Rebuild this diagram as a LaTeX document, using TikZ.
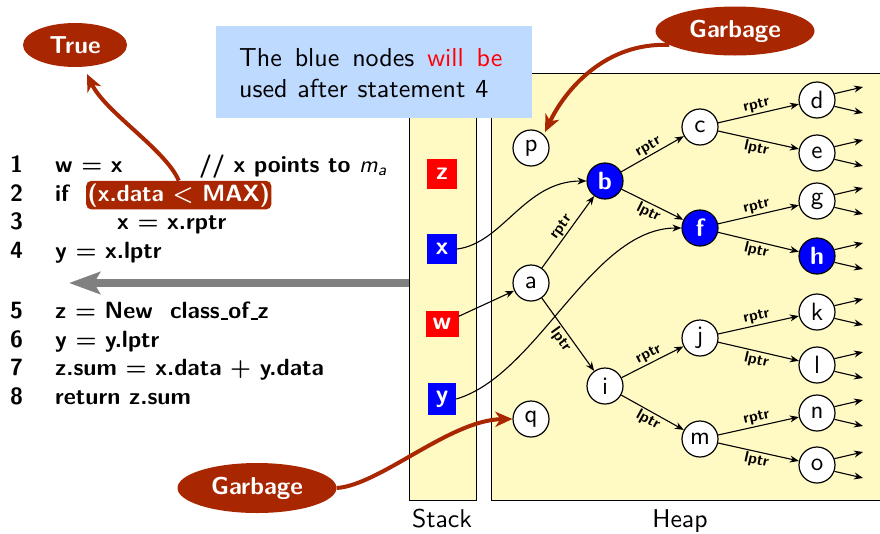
\documentclass[tikz,border=0pt]{standalone}
\usetikzlibrary{arrows.meta,shapes.geometric,calc}
\definecolor{dred}{RGB}{168,38,0}
\definecolor{heapy}{RGB}{255,249,196}
\definecolor{noteb}{RGB}{190,218,255}
\definecolor{sqred}{RGB}{255,0,0}
\definecolor{sqblue}{RGB}{0,0,255}
\definecolor{grayarr}{RGB}{128,128,128}
\newcommand{\txcode}[1]{\scalebox{2.35}{\fontsize{10}{12}\selectfont\sffamily\bfseries\boldmath #1}}
\newcommand{\txbig}[1]{\scalebox{2.57}{\fontsize{10}{12}\selectfont\sffamily #1}}
\newcommand{\txnode}[1]{\scalebox{2.5}{\fontsize{10}{12}\selectfont\sffamily #1}}
\newcommand{\txbnode}[1]{\scalebox{2.5}{\fontsize{10}{12}\selectfont\sffamily\bfseries #1}}
\newcommand{\txlab}[1]{\scalebox{1.55}{\fontsize{10}{12}\selectfont\sffamily\bfseries #1}}
\newcommand{\txcall}[1]{\scalebox{2.45}{\fontsize{10}{12}\selectfont\sffamily\bfseries #1}}
\newcommand{\txnote}[2]{\scalebox{2.6}{\fontsize{10}{12}\selectfont\sffamily\makebox[#1][s]{#2}}}
\newcommand{\usc}{\leavevmode\kern.06em\rule[-0.06em]{0.3em}{0.07em}}
\tikzset{
  codef/.style={inner sep=0pt, anchor=base west},
  hn/.style={circle,draw,line width=1.2pt,fill=white,minimum size=36pt,inner sep=0pt},
  bn/.style={hn,fill=sqblue,text=white},
  sq/.style={minimum width=30pt,minimum height=30pt,inner sep=0pt,text=white},
  ptr/.style={line width=1.1pt,-{Stealth[length=9pt,width=7pt]}},
  lab/.style={inner sep=1.5pt},
  garb/.style={line width=4pt,draw=dred,-{Stealth[length=17pt,width=15pt,inset=5pt]}},
  gell/.style={ellipse,fill=dred,text=white,inner sep=0pt},
  boxlab/.style={anchor=base,inner sep=0pt}
}
\begin{document}
\begin{tikzpicture}[x=1pt,y=-1pt]
\useasboundingbox (0,0) rectangle (880,533);
% stack and heap boxes
\draw[fill=heapy,line width=0.9pt] (409,73) rectangle (476,500);
\draw[fill=heapy,line width=0.9pt] (491,73) rectangle (900,500);
\node[boxlab] (stk) at (442,527.5) {\txbig{Stack}};
\node[boxlab] (hp) at (680,527.5) {\txbig{Heap}};
% note box
\node[fill=noteb,minimum width=316pt,minimum height=92pt,inner sep=0pt] (note) at (374,72) {};
\node[boxlab,anchor=base west] (nl1) at (239,66) {\txnote{101.2pt}{The blue nodes \textcolor{sqred}{will be}}};
\node[boxlab,anchor=base west] (nl2) at (239,97) {\txnote{95.8pt}{used after statement 4}};
% code
\node[codef] (n1) at (10,172) {\txcode{1}};
\node[codef] (n2) at (10,201) {\txcode{2}};
\node[codef] (n3) at (10,229.5) {\txcode{3}};
\node[codef] (n4) at (10,258) {\txcode{4}};
\node[codef] (n5) at (10,318.5) {\txcode{5}};
\node[codef] (n6) at (10,347) {\txcode{6}};
\node[codef] (n7) at (10,375.5) {\txcode{7}};
\node[codef] (n8) at (10,404) {\txcode{8}};
\node[codef] (s1) at (55,172) {\txcode{w $=$ x}};
\node[codef] (c1) at (199,172) {\txcode{// x points to {\mdseries\itshape m\textsubscript{a}}}};
\node[codef] (s2) at (55,201) {\txcode{if}};
\node[codef,fill=dred,text=white,rounded corners=5pt,inner xsep=1.5pt,inner ysep=2.5pt] (cond) at (86,201) {\txcode{(x.data $<$ MAX)}};
\node[codef] (s3) at (117,229.5) {\txcode{x $=$ x.rptr}};
\node[codef] (s4) at (55,258) {\txcode{y $=$ x.lptr}};
\node[codef] (s5) at (55,318.5) {\txcode{z $=$ New}};
\node[codef] (s5b) at (170,318.5) {\txcode{class\usc of\usc z}};
\node[codef] (s6) at (55,347) {\txcode{y $=$ y.lptr}};
\node[codef] (s7) at (55,375.5) {\txcode{z.sum $=$ x.data $+$ y.data}};
\node[codef] (s8) at (55,404) {\txcode{return z.sum}};
% gray arrow
\coordinate (gs) at (409,283);
\coordinate (ge) at (69,283);
\draw[grayarr,line width=8pt,-{Stealth[length=31pt,width=22pt,inset=6pt]}] (gs) -- (ge);
% stack variables
\node[sq,fill=sqred] (z) at (442,174) {\txbnode{z}};
\node[sq,fill=sqblue] (x) at (442,249) {\txbnode{x}};
\node[sq,fill=sqred,minimum width=33pt,minimum height=26pt] (w) at (442,324) {\txbnode{w}};
\node[sq,fill=sqblue,minimum width=28pt,minimum height=32pt] (y) at (442,399) {\txbnode{y}};
% heap nodes
\node[hn] (p) at (531,148) {\txnode{p}};
\node[bn] (b) at (605,181) {\txbnode{b}};
\node[hn] (a) at (531,283) {\txnode{a}};
\node[hn] (c) at (700,127) {\txnode{c}};
\node[bn] (f) at (700,228) {\txbnode{f}};
\node[hn] (d) at (817,100) {\txnode{d}};
\node[hn] (e) at (817,153) {\txnode{e}};
\node[hn] (g) at (817,201) {\txnode{g}};
\node[bn] (h) at (817,256) {\txbnode{h}};
\node[hn] (i) at (605,386) {\txnode{i}};
\node[hn] (j) at (700,338) {\txnode{j}};
\node[hn] (m) at (700,439) {\txnode{m}};
\node[hn] (k) at (817,312) {\txnode{k}};
\node[hn] (l) at (817,365) {\txnode{l}};
\node[hn] (n) at (817,413) {\txnode{n}};
\node[hn] (o) at (817,465) {\txnode{o}};
\node[hn] (q) at (531,419) {\txnode{q}};
% heap edges
\draw[ptr] (a) -- node[lab,above,sloped]{\txlab{rptr}} (b);
\draw[ptr] (a) -- node[lab,below,sloped]{\txlab{lptr}} (i);
\draw[ptr] (b) -- node[lab,above,sloped]{\txlab{rptr}} (c);
\draw[ptr] (b) -- node[lab,below,sloped]{\txlab{lptr}} (f);
\draw[ptr] (c) -- node[lab,above,sloped]{\txlab{rptr}} (d);
\draw[ptr] (c) -- node[lab,below,sloped]{\txlab{lptr}} (e);
\draw[ptr] (f) -- node[lab,above,sloped]{\txlab{rptr}} (g);
\draw[ptr] (f) -- node[lab,below,sloped]{\txlab{lptr}} (h);
\draw[ptr] (i) -- node[lab,above,sloped]{\txlab{rptr}} (j);
\draw[ptr] (i) -- node[lab,below,sloped]{\txlab{lptr}} (m);
\draw[ptr] (j) -- node[lab,above,sloped]{\txlab{rptr}} (k);
\draw[ptr] (j) -- node[lab,below,sloped]{\txlab{lptr}} (l);
\draw[ptr] (m) -- node[lab,above,sloped]{\txlab{rptr}} (n);
\draw[ptr] (m) -- node[lab,below,sloped]{\txlab{lptr}} (o);
\foreach \nm in {d,e,g,h,k,l,n,o}{
  \coordinate (\nm u) at ($(\nm)+(46,-13)$);
  \coordinate (\nm d) at ($(\nm)+(46,13)$);
  \draw[ptr] (\nm.20) -- (\nm u);
  \draw[ptr] (\nm.-20) -- (\nm d);
}
% stack pointers
\draw[ptr] (x.east) .. controls +(46,-6) and +(-62,0) .. (b.west);
\draw[ptr] (w) -- (a);
\draw[ptr] (y.east) .. controls +(82,-24) and +(-90,0) .. (f.west);
% garbage / true callouts
\node[gell,minimum width=159pt,minimum height=49pt] (gt) at (735,31) {\txcall{Garbage}};
\node[gell,minimum width=159pt,minimum height=50pt] (gb) at (257,488) {\txcall{Garbage}};
\node[gell,minimum width=104pt,minimum height=44pt] (tr) at (75,45) {\txcall{True}};
\coordinate (ptip) at (545,132);
\coordinate (ttip) at (87,74);
\draw[garb] (gt.192) .. controls (605,42) and (565,90) .. (ptip);
\draw[garb] (gb.east) .. controls (380,485) and (450,420) .. (q.west);
\draw[garb] (cond.north) .. controls (166,150) and (105,112) .. (ttip);
\end{tikzpicture}
\end{document}
